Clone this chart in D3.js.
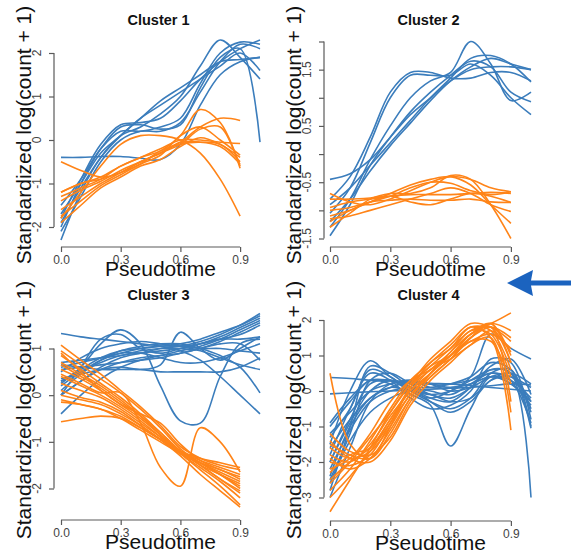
<!DOCTYPE html>
<html>
<head>
<meta charset="utf-8">
<script src="https://cdn.jsdelivr.net/npm/d3@7"></script>
<style>
  body { margin: 0; background: #fff; }
  svg { display: block; font-family: "Liberation Sans", Arial, sans-serif; }
</style>
</head>
<body>
<svg id="chart" width="571" height="556"></svg>
<script>
// pseudotime knots (blue genes run to 1.0, orange to 0.9)
const pseudotime = [0, 0.1, 0.2, 0.3, 0.4, 0.5, 0.6, 0.7, 0.8, 0.9, 1.0]
const xTicks = [0, 0.3, 0.6, 0.9]
const titles = ['Cluster 1', 'Cluster 2', 'Cluster 3', 'Cluster 4']

const c1Blue = [
  [-0.4, -0.4, -0.38, -0.38, -0.42, -0.45, -0.1, 0.8, 1.5, 1.8, 1.9],
  [-2.3, -1.2, -0.4, 0.1, 0.3, 0.6, 1.0, 1.7, 2.3, 1.9, 1.4],
  [-2.0, -1.0, -0.2, 0.3, 0.35, 0.25, 0.35, 1.2, 1.9, 2.1, -0.05],
  [-1.8, -0.9, -0.1, 0.35, 0.4, 0.5, 0.9, 1.4, 1.8, 2.1, 2.3],
  [-1.9, -1.1, -0.4, 0.1, 0.5, 0.9, 1.2, 1.5, 1.8, 1.85, 1.9],
  [-1.5, -0.9, -0.2, 0.2, 0.2, 0.3, 0.5, 1.3, 2.0, 2.25, 2.2],
  [-1.7, -1.0, -0.3, 0.1, 0.5, 0.8, 1.1, 1.4, 1.7, 2.0, 1.6],
  [-2.1, -1.3, -0.5, 0.0, 0.2, 0.2, 0.4, 1.1, 1.8, 2.2, 2.1]
]
const c1Orange = [
  [-0.5, -0.7, -0.85, -0.75, -0.5, -0.3, -0.05, 0.3, 0.5, 0.45],
  [-1.2, -1.0, -0.85, -0.6, -0.4, -0.25, 0.1, 0.7, 0.4, -0.6],
  [-1.8, -1.2, -0.6, -0.1, 0.1, 0.1, 0.0, -0.3, -0.9, -1.75],
  [-1.3, -1.1, -0.9, -0.6, -0.4, -0.2, 0.0, 0.0, -0.05, -0.08],
  [-1.6, -1.3, -1.0, -0.75, -0.5, -0.3, -0.1, 0.25, 0.3, -0.65],
  [-1.75, -1.4, -1.05, -0.8, -0.55, -0.35, 0.1, 0.3, 0.0, -0.35],
  [-1.4, -1.15, -0.95, -0.7, -0.5, -0.3, -0.05, -0.05, -0.1, -0.5],
  [-1.9, -1.5, -1.1, -0.85, -0.6, -0.45, -0.15, 0.05, -0.1, -0.4],
  [-1.2, -1.0, -0.9, -0.75, -0.55, -0.25, -0.1, -0.05, -0.15, -0.55]
]

const c2Blue = [
  [-0.45, -0.35, -0.1, 0.3, 0.7, 1.0, 1.3, 1.5, 1.55, 1.55, 1.5],
  [-0.8, -0.4, 0.3, 1.1, 1.45, 1.45, 1.35, 1.35, 1.45, 1.45, 1.3],
  [-1.05, -0.6, 0.2, 1.0, 1.4, 1.4, 1.4, 1.6, 1.4, 1.0, 0.7],
  [-1.3, -0.8, -0.1, 0.5, 1.0, 1.3, 1.45, 2.0, 1.6, 0.95, 1.1],
  [-1.45, -0.9, -0.2, 0.3, 0.75, 1.1, 1.4, 1.65, 1.55, 1.1, 0.93],
  [-1.2, -0.8, -0.3, 0.15, 0.55, 0.95, 1.3, 1.55, 1.7, 1.6, 1.5],
  [-0.9, -0.6, -0.2, 0.2, 0.6, 1.0, 1.35, 1.7, 1.75, 1.6, 1.28]
]
const c2Orange = [
  [-0.7, -0.85, -0.9, -0.8, -0.65, -0.5, -0.4, -0.45, -0.6, -0.67],
  [-1.1, -1.0, -0.85, -0.7, -0.55, -0.45, -0.4, -0.55, -0.9, -1.23],
  [-1.3, -1.05, -0.8, -0.7, -0.7, -0.6, -0.38, -0.45, -0.9, -1.5],
  [-0.95, -0.85, -0.8, -0.75, -0.72, -0.72, -0.72, -0.7, -0.68, -0.7],
  [-0.8, -0.8, -0.78, -0.75, -0.85, -0.9, -0.8, -0.7, -0.75, -0.86],
  [-1.15, -1.1, -1.0, -0.9, -0.8, -0.7, -0.6, -0.7, -0.9, -1.02],
  [-1.0, -0.95, -0.85, -0.82, -0.8, -0.82, -0.82, -0.8, -0.85, -0.86],
  [-1.2, -1.0, -0.85, -0.75, -0.6, -0.5, -0.52, -0.65, -0.72, -0.67]
]

const c3Blue = [
  [1.32, 1.25, 1.2, 1.15, 1.1, 1.05, 0.95, 0.75, 0.4, 0.0, -0.4],
  [0.25, 0.6, 1.1, 1.4, 1.1, 0.2, -0.55, -0.6, 0.4, 1.1, 1.2],
  [0.35, 0.45, 0.55, 0.6, 0.55, 0.65, 1.35, 1.0, 0.75, 1.0, 1.25],
  [0.0, 0.6, 1.2, 1.3, 1.0, 0.9, 1.0, 1.1, 1.2, 1.3, 1.5],
  [0.6, 0.7, 0.8, 0.9, 1.0, 1.05, 1.1, 1.2, 1.35, 1.5, 1.7],
  [0.3, 0.5, 0.7, 0.85, 0.9, 0.95, 1.0, 1.1, 1.25, 1.45, 1.65],
  [0.0, 0.3, 0.6, 0.8, 0.9, 1.0, 1.05, 1.15, 1.3, 1.5, 1.75],
  [-0.4, 0.0, 0.35, 0.6, 0.75, 0.85, 0.95, 1.05, 1.2, 1.4, 1.6],
  [0.65, 0.6, 0.55, 0.55, 0.55, 0.5, 0.5, 0.5, 0.5, 0.6, 0.8],
  [0.2, 0.5, 0.75, 0.9, 0.9, 0.8, 0.7, 0.7, 0.8, 0.95, 1.1],
  [0.5, 0.8, 1.0, 1.1, 1.15, 1.1, 1.05, 1.0, 1.0, 0.95, 0.9],
  [0.1, 0.45, 0.75, 0.95, 1.05, 1.1, 1.1, 1.0, 0.85, 0.6, 0.05],
  [0.7, 0.75, 0.8, 0.85, 0.95, 1.0, 1.0, 0.95, 0.8, 0.65, 0.55],
  [0.3, 0.55, 0.8, 0.95, 1.0, 1.05, 1.05, 1.1, 1.2, 1.2, 1.25],
  [0.0, 0.3, 0.55, 0.7, 0.8, 0.85, 0.9, 1.0, 1.15, 1.35, 1.55],
  [0.55, 0.6, 0.65, 0.7, 0.75, 0.8, 0.9, 1.0, 1.1, 1.1, 0.75]
]
const c3Orange = [
  [1.07, 0.75, 0.45, 0.1, -0.25, -0.65, -1.1, -1.35, -1.5, -1.6],
  [0.95, 0.65, 0.35, 0.05, -0.3, -0.7, -1.15, -1.45, -1.7, -2.0],
  [0.85, 0.55, 0.25, -0.05, -0.4, -0.8, -1.2, -1.5, -1.8, -2.1],
  [0.7, 0.45, 0.2, -0.1, -0.45, -0.85, -1.25, -1.6, -1.95, -2.35],
  [0.55, 0.35, 0.1, -0.2, -0.5, -0.85, -1.2, -1.5, -1.8, -2.05],
  [0.4, 0.2, 0.0, -0.25, -0.55, -0.9, -1.25, -1.55, -1.85, -2.2],
  [0.25, 0.1, -0.05, -0.3, -0.6, -0.9, -1.2, -1.45, -1.7, -1.95],
  [0.1, -0.05, -0.15, -0.35, -0.65, -0.95, -1.3, -1.7, -2.05, -2.4],
  [0.0, -0.1, -0.2, -0.4, -0.65, -0.95, -1.2, -1.4, -1.55, -1.7],
  [-0.1, -0.2, -0.3, -0.45, -0.7, -0.95, -1.2, -1.35, -1.45, -1.55],
  [-0.15, -0.2, -0.3, -0.5, -0.75, -1.0, -1.25, -1.45, -1.65, -1.85],
  [0.65, 0.4, 0.15, -0.15, -0.45, -0.8, -1.2, -1.5, -1.7, -1.9],
  [0.45, 0.25, 0.05, 0.05, -0.6, -1.55, -1.95, -0.7, -1.0, -1.65],
  [-0.57, -0.5, -0.45, -0.5, -0.7, -0.95, -1.25, -1.45, -1.6, -1.8],
  [0.9, 0.5, 0.1, -0.2, -0.4, -0.6, -1.05, -1.4, -1.6, -1.75]
]

const c4Blue = [
  [0.38, 0.35, 0.3, 0.28, 0.25, 0.22, 0.2, 0.15, 0.1, 0.05, 0.0],
  [-0.08, -0.05, -0.02, 0.0, 0.02, 0.05, 0.08, 0.1, 0.15, 0.2, 0.17],
  [-1.0, -0.3, 0.3, 0.2, -0.1, -0.4, -1.55, -0.5, 0.4, 0.2, -0.3],
  [-2.4, -1.0, -0.2, 0.1, 0.0, -0.1, 0.0, 0.3, 0.6, 0.5, -3.0],
  [-2.0, -0.8, 0.2, 0.3, 0.0, -0.2, 0.0, 0.4, 1.6, 1.2, 0.9],
  [-1.5, 0.0, 0.85, 0.4, 0.1, 0.0, -0.1, 0.2, 0.5, 0.3, -0.9],
  [-2.8, -1.0, 0.7, 0.5, 0.1, -0.2, -0.3, 0.1, 0.6, 0.5, -1.05],
  [-0.9, -0.2, 0.3, 0.3, 0.2, 0.2, 0.2, 0.3, 0.5, 0.4, 0.1],
  [-2.2, -1.1, -0.3, 0.0, 0.1, 0.1, 0.2, 0.4, 0.8, 0.6, -0.5],
  [-1.8, -0.5, 0.5, 0.3, -0.2, -0.5, -0.4, 0.0, 0.9, 0.8, -0.8],
  [-2.6, -1.4, -0.6, -0.2, 0.0, -0.1, -0.3, -0.2, 0.3, 0.4, -0.3],
  [-1.2, -0.6, 0.0, 0.2, 0.3, 0.2, 0.0, 0.1, 0.4, 0.5, 0.2],
  [-2.0, -0.9, 0.0, 0.3, 0.1, -0.3, -0.6, -0.3, 0.3, 0.5, -0.6],
  [-1.6, -0.8, -0.2, 0.1, 0.25, 0.2, 0.1, 0.2, 0.4, 0.3, -0.2],
  [-2.5, -1.2, 0.3, 0.5, 0.2, -0.1, -0.2, 0.1, 0.7, 0.9, -0.1],
  [-1.3, -0.5, 0.6, 0.4, 0.0, -0.3, -0.5, -0.2, 0.5, 0.6, -1.0],
  [-3.0, -1.6, -0.3, 0.2, 0.3, 0.1, 0.1, 0.2, 0.4, 0.2, -0.4]
]
const c4Orange = [
  [0.5, -1.5, -1.9, -1.2, -0.2, 0.5, 1.0, 1.6, 1.8, 0.8],
  [-3.4, -2.5, -1.6, -0.6, 0.2, 0.7, 1.2, 1.7, 1.9, 2.2],
  [-1.5, -1.8, -1.9, -1.0, 0.1, 0.6, 1.1, 1.7, 1.6, 0.4],
  [-1.2, -1.7, -1.8, -1.3, -0.3, 0.4, 0.9, 1.5, 1.9, 1.0],
  [-2.5, -2.0, -1.6, -0.8, 0.0, 0.5, 1.0, 1.5, 1.8, 1.5],
  [-2.0, -2.1, -1.8, -0.9, 0.1, 0.8, 1.2, 1.8, 1.5, -1.1],
  [-2.8, -2.2, -1.4, -0.5, 0.3, 0.8, 1.3, 1.8, 1.7, 0.6],
  [-1.8, -2.0, -1.5, -0.7, 0.0, 0.6, 0.9, 1.3, 1.7, 1.1],
  [-3.0, -2.4, -1.7, -0.9, -0.1, 0.5, 1.0, 1.6, 1.9, 0.8],
  [-1.4, -1.9, -2.0, -1.4, -0.4, 0.3, 0.8, 1.3, 1.5, -0.6],
  [-2.2, -1.9, -1.2, -0.3, 0.3, 0.6, 1.0, 1.4, 1.6, 1.2],
  [-2.6, -2.0, -1.3, -0.6, 0.2, 0.9, 1.4, 1.9, 1.8, 1.4],
  [-1.6, -1.9, -1.7, -1.0, -0.1, 0.4, 0.9, 1.4, 1.4, 0.2],
  [-1.9, -2.2, -1.9, -1.1, -0.2, 0.5, 1.1, 1.6, 1.8, -0.3],
  [-2.3, -1.8, -1.6, -0.8, 0.1, 0.7, 1.0, 1.5, 1.9, 1.7]
]

const yTicks = [
  [-2, -1, 0, 1, 2],
  [-1.5, -1, -0.5, 0, 0.5, 1, 1.5, 2],
  [-2, -1, 0, 1],
  [-3, -2, -1, 0, 1, 2]
]
const yLabelled = [
  [-2, -1, 0, 1, 2],
  [-1.5, -0.5, 0.5, 1.5],
  [-2, -1, 0, 1],
  [-3, -2, -1, 0, 1, 2]
]

const BLUE = '#3b7dbc'
const ORANGE = '#ff8418'
const AXIS = '#5a5a5a'

// pixel frame of each panel: x range of 0..1, y range of tick min..max, axis positions
const frames = [
  {x: [61, 260], y: [227, 53], xAxisY: 247, yAxisX: 54, top: 0, left: 0},
  {x: [330, 531], y: [238.5, 41.5], xAxisY: 247, yAxisX: 324, top: 0, left: 270},
  {x: [61, 260], y: [488.5, 348.5], xAxisY: 520, yAxisX: 54, top: 275, left: 0},
  {x: [330, 531], y: [497.5, 320], xAxisY: 521, yAxisX: 324, top: 275, left: 270}
]
const series = [[c1Blue, c1Orange], [c2Blue, c2Orange], [c3Blue, c3Orange], [c4Blue, c4Orange]]

let svg = d3.select('#chart')
svg.append('rect').attr('width', 571).attr('height', 556).attr('fill', '#fff')

frames.forEach((f, i) => {
    let g = svg.append('g').attr('class', 'panel')
    let ticks = yTicks[i]
    let x = d3.scaleLinear().domain([0, 1]).range(f.x)
    let y = d3.scaleLinear().domain(d3.extent(ticks)).range(f.y)

    let line = d3.line()
        .x((d, j) => x(pseudotime[j]))
        .y(d => y(d))
        .curve(d3.curveCatmullRom.alpha(0.5))

    let [blue, orange] = series[i]
    g.selectAll('.blue').data(blue).enter().append('path')
        .attr('class', 'blue')
        .attr('d', line)
        .attr('fill', 'none')
        .attr('stroke', BLUE)
        .attr('stroke-width', 1.6)
    g.selectAll('.orange').data(orange).enter().append('path')
        .attr('class', 'orange')
        .attr('d', line)
        .attr('fill', 'none')
        .attr('stroke', ORANGE)
        .attr('stroke-width', 1.6)

    // x axis
    let xAxis = d3.axisBottom(x).tickValues(xTicks).tickSize(5).tickFormat(d3.format('.1f'))
    let xg = g.append('g')
        .attr('transform', `translate(0, ${f.xAxisY})`)
        .call(xAxis)
    xg.select('.domain').attr('d', `M${x(0)},0H${x(0.9)}`).attr('stroke', AXIS).attr('stroke-width', 1.2)
    xg.selectAll('.tick line').attr('stroke', AXIS).attr('stroke-width', 1.2)
    xg.selectAll('.tick text')
        .attr('y', 8)
        .attr('fill', '#444')
        .style('font-size', '12px')
        .style('font-family', '"Liberation Sans", Arial, sans-serif')

    // y axis, labels parallel to axis like base R
    let yAxis = d3.axisLeft(y).tickValues(ticks).tickSize(5).tickFormat('')
    let yg = g.append('g')
        .attr('transform', `translate(${f.yAxisX}, 0)`)
        .call(yAxis)
    yg.select('.domain').attr('d', `M0,${y(d3.min(ticks))}V${y(d3.max(ticks))}`).attr('stroke', AXIS).attr('stroke-width', 1.2)
    yg.selectAll('.tick line').attr('stroke', AXIS).attr('stroke-width', 1.2)
    yg.selectAll('.ylab').data(yLabelled[i]).enter().append('text')
        .attr('class', 'ylab')
        .attr('transform', d => `translate(-13, ${y(d)}) rotate(-90)`)
        .attr('text-anchor', 'middle')
        .attr('fill', '#444')
        .style('font-size', '12px')
        .text(d => d)

    // titles and axis titles
    g.append('text')
        .attr('x', (f.x[0] + f.x[1]) / 2 - 2)
        .attr('y', f.top + 25)
        .attr('text-anchor', 'middle')
        .attr('font-weight', 'bold')
        .style('font-size', '14.5px')
        .attr('fill', '#111')
        .text(titles[i])
    g.append('text')
        .attr('x', x(0.5))
        .attr('y', f.xAxisY + 29)
        .attr('text-anchor', 'middle')
        .style('font-size', '21px')
        .attr('fill', '#111')
        .text('Pseudotime')
    g.append('text')
        .attr('transform', `translate(${f.left + 31}, ${f.top + 135}) rotate(-90)`)
        .attr('text-anchor', 'middle')
        .style('font-size', '21px')
        .attr('fill', '#111')
        .text('Standardized log(count + 1)')
})

// pointer arrow beside cluster 2
svg.append('path')
    .attr('d', 'M507,283 L533,270 L531,280.5 L571,280.5 L571,285.5 L531,285.5 L533,296 Z')
    .attr('fill', '#1b63bf')
</script>
</body>
</html>
